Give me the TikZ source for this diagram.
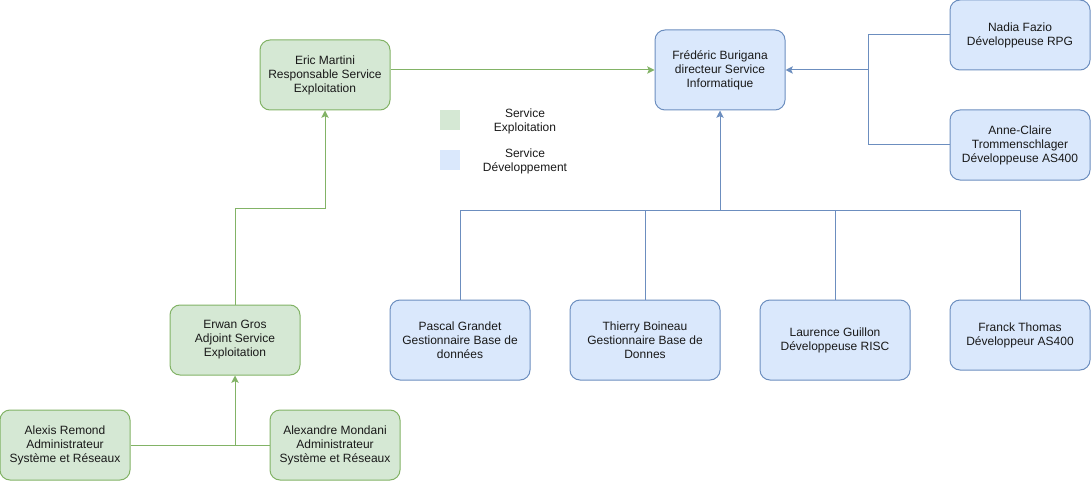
\documentclass[tikz,border=0pt]{standalone}
\usepackage{fontspec}
\setmainfont{Liberation Sans}
\usetikzlibrary{shapes,arrows,arrows.meta,positioning}
\definecolor{explfill}{HTML}{D5E8D4}
\definecolor{expldraw}{HTML}{82B366}
\definecolor{devfill}{HTML}{DAE8FC}
\definecolor{devdraw}{HTML}{6C8EBF}
\tikzstyle{block} =
        [
                rectangle,
                draw,
                align = center,
                text = black!90,
                rounded corners = 7.5pt,
                inner sep = 0pt,
                line width = 0.75pt,
                font = \fontsize{9}{10.5}\selectfont,
                minimum width = 97.5pt,
                minimum height = 52.5pt
        ]
\tikzstyle{expl} = [block, fill = explfill, draw = expldraw]
\tikzstyle{dev} = [block, fill = devfill, draw = devdraw]
\tikzstyle{line} =
        [
                line width = 0.75pt,
                draw,
                -{Stealth[length = 5.5pt, width = 5.5pt, inset = 1.2pt]}
        ]

\begin{document}
\begin{tikzpicture}[x=0.75pt, y=-0.75pt]
    \useasboundingbox (0,0) rectangle (1091,481);
    % service exploitation
    \node [expl] (eric) at (325,75) {Eric Martini\\Responsable Service\\Exploitation};
    \node [expl] (erwan) at (235,340) {Erwan Gros\\Adjoint Service\\Exploitation};
    \node [expl] (alexis) at (65,445) {Alexis Remond\\Administrateur\\Système et Réseaux};
    \node [expl] (alexandre) at (335,445) {Alexandre Mondani\\Administrateur\\Système et Réseaux};
    % service informatique / developpement
    \node [dev, minimum height = 60pt] (fred) at (720,70) {Frédéric Burigana\\directeur Service\\Informatique};
    \node [dev, minimum width = 105pt] (nadia) at (1020,35) {Nadia Fazio\\Développeuse RPG};
    \node [dev, minimum width = 105pt] (anne) at (1020,145) {Anne-Claire\\Trommenschlager\\Développeuse AS400};
    \node [dev, minimum width = 105pt, minimum height = 60pt] (pascal) at (460,340) {Pascal Grandet\\Gestionnaire Base de\\données};
    \node [dev, minimum width = 112.5pt, minimum height = 60pt] (thierry) at (645,340) {Thierry Boineau\\Gestionnaire Base de\\Donnes};
    \node [dev, minimum width = 112.5pt, minimum height = 60pt] (laurence) at (835,340) {Laurence Guillon\\Développeuse RISC};
    \node [dev, minimum width = 105pt] (franck) at (1020,335) {Franck Thomas\\Développeur AS400};
    % legende
    \node [rectangle, fill = explfill, minimum size = 15pt, inner sep = 0pt] (legexpl) at (450,120) {};
    \node [rectangle, fill = devfill, minimum size = 15pt, inner sep = 0pt] (legdev) at (450,160) {};
    \node [align = center, text = black!90, font = \fontsize{9}{10.5}\selectfont] (legexpltext) at (525,121) {Service\\Exploitation};
    \node [align = center, text = black!90, font = \fontsize{9}{10.5}\selectfont] (legdevtext) at (525,161) {Service\\Développement};
    % points de jonction
    \coordinate (expljoin) at (325,208);
    \coordinate (admjoin) at (235,445);
    \coordinate (devjoin) at (868,70);
    \coordinate (devbus) at (720,210);
    % liens exploitation
    \path [line, draw = expldraw] (eric.east |- fred.west) -- (fred.west);
    \path [line, draw = expldraw] (erwan.north) |- (expljoin) -- (eric.south);
    \path [line, draw = expldraw] (alexis.east) -- (admjoin) -- (erwan.south);
    \draw [line width = 0.75pt, draw = expldraw] (alexandre.west) -- (admjoin);
    % liens developpement
    \path [line, draw = devdraw] (nadia.west) -| (devjoin) -- (fred.east);
    \draw [line width = 0.75pt, draw = devdraw] (anne.west) -| (devjoin);
    \path [line, draw = devdraw] (devbus) -- (fred.south);
    \draw [line width = 0.75pt, draw = devdraw] (pascal.north) |- (devbus);
    \draw [line width = 0.75pt, draw = devdraw] (thierry.north) |- (devbus);
    \draw [line width = 0.75pt, draw = devdraw] (laurence.north) |- (devbus);
    \draw [line width = 0.75pt, draw = devdraw] (franck.north) |- (devbus);
\end{tikzpicture}
\end{document}
